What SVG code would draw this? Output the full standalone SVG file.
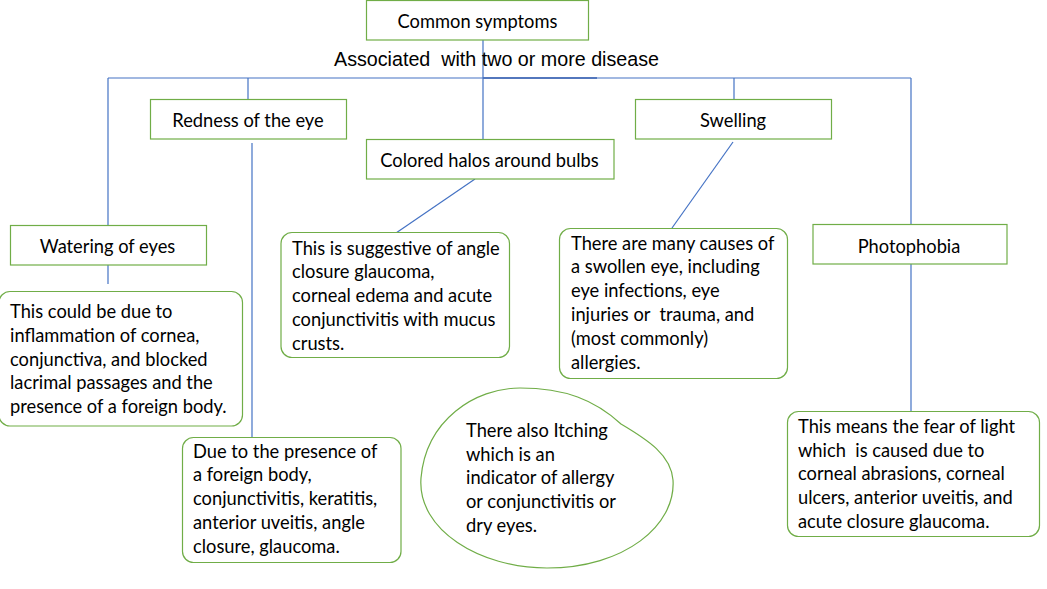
<svg xmlns="http://www.w3.org/2000/svg" width="1047" height="589" viewBox="0 0 1047 589">
<style>
.bg{fill:#ffffff}
.box{fill:#ffffff;stroke:#70AD47;stroke-width:1.2}
.rbox{fill:#ffffff;stroke:#70AD47;stroke-width:1.2}
.ln{stroke:#4472C4;stroke-width:1.2;fill:none}
.t{font-family:Lato,"Liberation Sans",sans-serif;font-size:18.3px;fill:#000}
.c{text-anchor:middle}
.hdr{font-family:"Liberation Sans",Arial,sans-serif;font-size:19.7px;fill:#000}
</style>
<rect class="bg" x="0" y="0" width="1047" height="589"/>
<g id="connectors">
<line class="ln" x1="108" y1="78" x2="911" y2="78"/>
<line class="ln" x1="483" y1="78" x2="597" y2="78" style="stroke:#3A62B0;stroke-width:1.6"/>
<line class="ln" x1="483" y1="40" x2="483" y2="139"/>
<line class="ln" x1="108" y1="78" x2="108" y2="225"/>
<line class="ln" x1="248" y1="78" x2="248" y2="99"/>
<line class="ln" x1="734" y1="78" x2="734" y2="99"/>
<line class="ln" x1="911" y1="78" x2="911" y2="224"/>
<line class="ln" x1="252" y1="143" x2="252" y2="437"/>
<line class="ln" x1="475" y1="179" x2="396" y2="233"/>
<line class="ln" x1="733" y1="142" x2="672" y2="228"/>
<line class="ln" x1="108" y1="265" x2="108" y2="284"/>
<line class="ln" x1="911" y1="264" x2="911" y2="411"/>
</g>
<g id="common-symptoms">
<rect class="box" x="366.5" y="0.5" width="222" height="39.5"/>
<text class="t c" x="477.5" y="28">Common symptoms</text>
</g>
<g id="associated-label">
<text class="hdr" x="334" y="66" xml:space="preserve">Associated  with two or more disease</text>
</g>
<g id="redness">
<rect class="box" x="150.5" y="99.5" width="196" height="39.5"/>
<text class="t c" x="248" y="127">Redness of the eye</text>
</g>
<g id="colored-halos">
<rect class="box" x="366.5" y="139.5" width="247.5" height="39.5"/>
<text class="t c" x="489.5" y="167">Colored halos around bulbs</text>
</g>
<g id="swelling">
<rect class="box" x="635.5" y="99.5" width="196" height="39.5"/>
<text class="t c" x="733" y="127">Swelling</text>
</g>
<g id="watering">
<rect class="box" x="10.5" y="225.5" width="196" height="39.5"/>
<text class="t c" x="107.5" y="253">Watering of eyes</text>
</g>
<g id="photophobia">
<rect class="box" x="813" y="224.5" width="194" height="39.5"/>
<text class="t c" x="909" y="253">Photophobia</text>
</g>
<g id="watering-desc">
<rect class="rbox" x="-1" y="291.5" width="243.5" height="134.5" rx="11"/>
<text class="t" x="10"><tspan x="10" y="318">This could be due to</tspan><tspan x="10" y="341.8">inflammation of cornea,</tspan><tspan x="10" y="365.6">conjunctiva, and blocked</tspan><tspan x="10" y="389.4">lacrimal passages and the</tspan><tspan x="10" y="413.2">presence of a foreign body.</tspan></text>
</g>
<g id="halos-desc">
<rect class="rbox" x="281" y="232.5" width="228.5" height="125" rx="11"/>
<text class="t" x="292"><tspan x="292" y="254.5">This is suggestive of angle</tspan><tspan x="292" y="278.3">closure glaucoma,</tspan><tspan x="292" y="302.1">corneal edema and acute</tspan><tspan x="292" y="325.9">conjunctivitis with mucus</tspan><tspan x="292" y="349.7">crusts.</tspan></text>
</g>
<g id="swelling-desc">
<rect class="rbox" x="559.5" y="228.5" width="228" height="150" rx="11"/>
<text class="t" x="571"><tspan x="571" y="249.5">There are many causes of</tspan><tspan x="571" y="273.4">a swollen eye, including</tspan><tspan x="571" y="297.3">eye infections, eye</tspan><tspan x="571" y="321.2" xml:space="preserve">injuries or  trauma, and</tspan><tspan x="571" y="345.1">(most commonly)</tspan><tspan x="571" y="369">allergies.</tspan></text>
</g>
<g id="redness-desc">
<rect class="rbox" x="182.5" y="437.5" width="218.5" height="125" rx="11"/>
<text class="t" x="193"><tspan x="193" y="457.5">Due to the presence of</tspan><tspan x="193" y="481.3">a foreign body,</tspan><tspan x="193" y="505.1">conjunctivitis, keratitis,</tspan><tspan x="193" y="528.9">anterior uveitis, angle</tspan><tspan x="193" y="552.7">closure, glaucoma.</tspan></text>
</g>
<g id="itching">
<path class="rbox" d="M520,388 C475,388 426,420 421,478 C417,530 480,568 547,568 C625,568 676,525 673,480 C671,455 648,440 621,424 C595,400 565,388 520,388 Z"/>
<text class="t" x="466"><tspan x="466" y="436.7">There also Itching</tspan><tspan x="466" y="460.5">which is an</tspan><tspan x="466" y="484.3">indicator of allergy</tspan><tspan x="466" y="508.1">or conjunctivitis or</tspan><tspan x="466" y="531.9">dry eyes.</tspan></text>
</g>
<g id="photophobia-desc">
<rect class="rbox" x="787.5" y="411.5" width="252" height="125" rx="11"/>
<text class="t" x="798"><tspan x="798" y="432.7">This means the fear of light</tspan><tspan x="798" y="456.5" xml:space="preserve">which  is caused due to</tspan><tspan x="798" y="480.3">corneal abrasions, corneal</tspan><tspan x="798" y="504.1">ulcers, anterior uveitis, and</tspan><tspan x="798" y="527.9">acute closure glaucoma.</tspan></text>
</g>
</svg>
